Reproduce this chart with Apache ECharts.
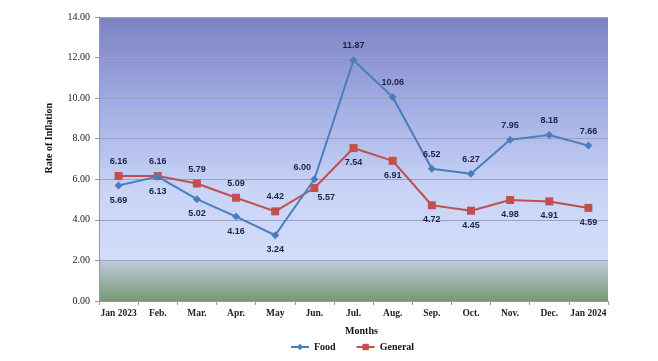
<!DOCTYPE html>
<html><head><meta charset="utf-8">
<script src="https://cdn.jsdelivr.net/npm/echarts@6/dist/echarts.min.js"></script>
<style>html,body{margin:0;padding:0;background:#fff}#c{width:658px;height:361px}</style>
</head><body><div id="c"></div>
<script>
const categories = ["Jan 2023","Feb.","Mar.","Apr.","May","Jun.","Jul.","Aug.","Sep.","Oct.","Nov.","Dec.","Jan 2024"];
const food = [5.69, 6.13, 5.02, 4.16, 3.24, 6.00, 11.87, 10.06, 6.52, 6.27, 7.95, 8.18, 7.66];
const general = [6.16, 6.16, 5.79, 5.09, 4.42, 5.57, 7.54, 6.91, 4.72, 4.45, 4.98, 4.91, 4.59];
const foodLabelPos = ["bottom","bottom","bottom","bottom","bottom","topleft","top","top","top","top","top","top","top"];
const generalLabelPos = ["top","top","top","top","top","bottomright","bottom","bottom","bottom","bottom","bottom","bottom","bottom"];

const serif = "Liberation Serif";
const labelStyle = {show:true, fontFamily:"Liberation Sans", fontWeight:"bold", fontSize:9, color:"#1a2545", formatter: p => p.value.toFixed(2)};

function mkData(vals, pos) {
  return vals.map((v,i) => {
    const p = pos[i];
    let lab;
    if (p === "topleft") lab = {position:"top", offset:[-12,2]};
    else if (p === "bottomright") lab = {position:"bottom", offset:[12,-4]};
    else lab = {position:p, distance:6};
    return {value:v, label:lab};
  });
}

const chart = echarts.init(document.getElementById('c'), null, {renderer:'canvas'});
chart.setOption({
  animation:false,
  grid:{left:99, right:50, top:17, bottom:60, show:true, borderWidth:0,
    backgroundColor: new echarts.graphic.LinearGradient(0,0,0,1,[
      {offset:0, color:'#7b82c2'},
      {offset:0.35, color:'#a7b2e6'},
      {offset:0.6, color:'#c8d3f6'},
      {offset:0.855, color:'#d3ddfa'},
      {offset:0.857, color:'#c1cad9'},
      {offset:1, color:'#779874'}
    ])},
  legend:{bottom:4, left:285, itemGap:20, itemWidth:18, itemHeight:8,
    textStyle:{fontFamily:serif, fontWeight:'bold', fontSize:10, color:'#111'},
    data:['Food','General']},
  xAxis:{type:'category', data:categories, boundaryGap:true,
    name:'Months', nameLocation:'middle', nameGap:25,
    nameTextStyle:{fontFamily:serif, fontWeight:'bold', fontSize:10, color:'#111', padding:[0,0,0,16]},
    axisLine:{lineStyle:{color:'#999', width:1}},
    axisTick:{show:true, length:4, lineStyle:{color:'#999'}},
    axisLabel:{fontFamily:serif, fontWeight:'bold', fontSize:9.5, color:'#222', margin:8, interval:0}},
  yAxis:{type:'value', min:0, max:14, interval:2,
    axisLine:{show:true, lineStyle:{color:'#999'}},
    axisTick:{show:true, length:4, lineStyle:{color:'#999'}},
    axisLabel:{fontFamily:serif, fontSize:10, color:'#222', margin:9, formatter:v=>v.toFixed(2)},
    splitLine:{lineStyle:{color:'#9aa2bf', width:1}}},
  graphic:[{type:'text', left:44, top:103, rotation:Math.PI/2,
    style:{text:'Rate of Inflation', font:'bold 10px "Liberation Serif"', fill:'#111'}}],
  series:[
    {name:'Food', type:'line', data:mkData(food, foodLabelPos), symbol:'diamond', symbolSize:8,
      itemStyle:{color:'#4a7ebb'}, lineStyle:{color:'#4a7ebb', width:2}, label:labelStyle, z:3},
    {name:'General', type:'line', data:mkData(general, generalLabelPos), symbol:'rect', symbolSize:8,
      itemStyle:{color:'#c0504d'}, lineStyle:{color:'#c0504d', width:2}, label:labelStyle, z:2}
  ]
});
</script></body></html>
